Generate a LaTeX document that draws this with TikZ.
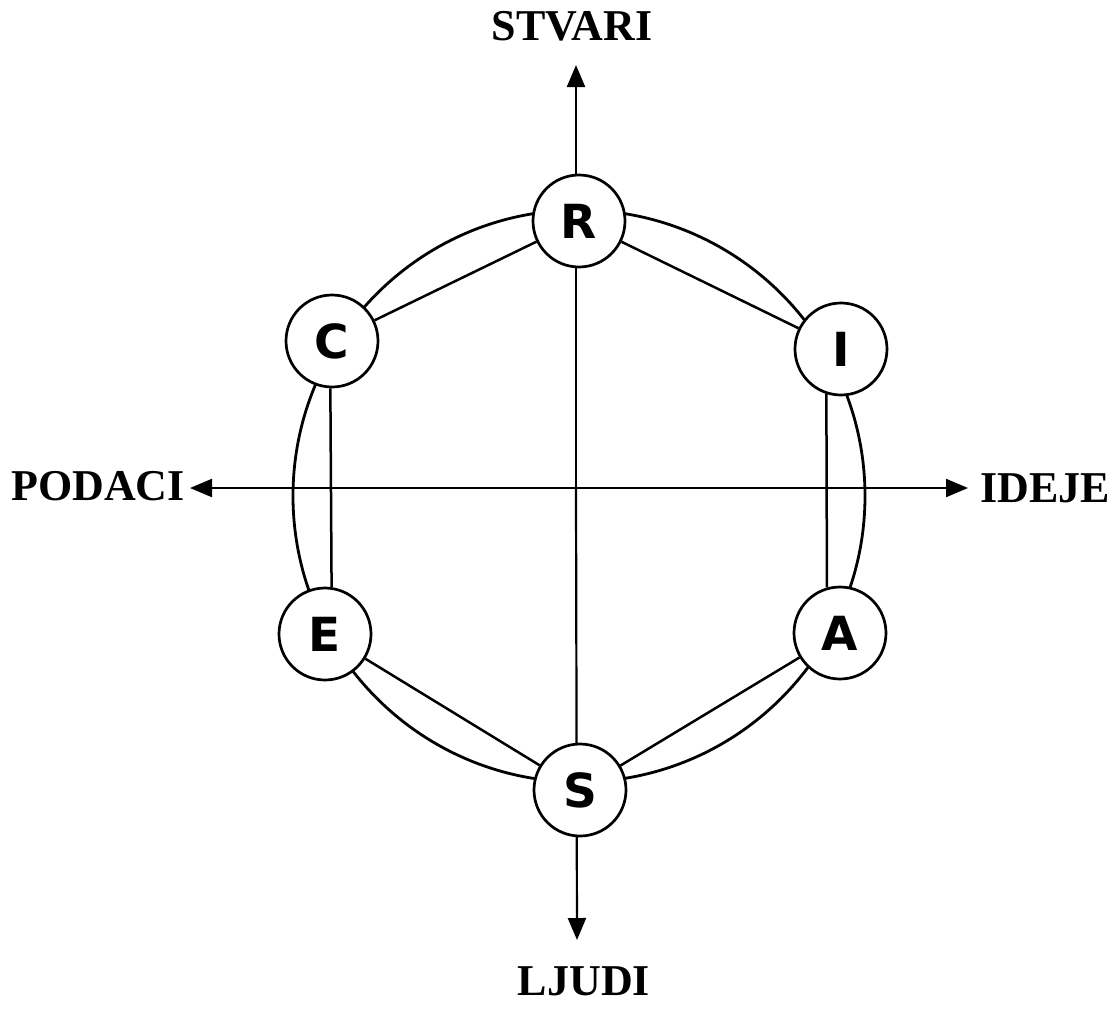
\documentclass[tikz,border=0pt]{standalone}
\usepackage{fontspec}
\setmainfont{Liberation Serif}
\newfontfamily\nodefont{DejaVu Sans}
\usetikzlibrary{arrows.meta}
\begin{document}
\begin{tikzpicture}[x=0.5pt,y=-0.5pt,
  letter/.style={circle,draw,fill=white,line width=1.35pt,minimum size=46pt,inner sep=0pt,
    font=\nodefont\bfseries\fontsize{23.5}{23.5}\selectfont},
  axisarrow/.style={line width=1.1pt,-{Triangle[length=11pt,width=9pt]}},
  hexedge/.style={line width=1.25pt},
  ring/.style={line width=1.4pt},
  axislabel/.style={font=\bfseries\fontsize{22}{22}\selectfont,anchor=base,inner sep=0pt}]
\useasboundingbox[fill=white] (0,0) rectangle (1115,1008);
% axes
\coordinate (O) at (576,488);
\coordinate (ctr) at (579,496);
\coordinate (Ntip) at (576,65);
\coordinate (Stip) at (577,940);
\coordinate (Wtip) at (190,488);
\coordinate (Etip) at (968,488);
\draw[axisarrow] (O) -- (Ntip);
\draw[axisarrow] (O) -- (Stip);
\draw[axisarrow] (O) -- (Wtip);
\draw[axisarrow] (O) -- (Etip);
% labels
\node[axislabel] (stvari) at (572,40) {STVARI};
\node[axislabel] (ljudi) at (584,995) {LJUDI};
\node[axislabel] (podaci) at (98,500) {PODACI};
\node[axislabel] (ideje) at (1045,502) {IDEJE};
% ring
\draw[ring] (ctr) circle[radius=143pt];
% nodes (positions)
\coordinate (pR) at (579,221);
\coordinate (pC) at (332,341);
\coordinate (pI) at (841,349);
\coordinate (pE) at (325,634);
\coordinate (pA) at (840,633);
\coordinate (pS) at (580,790);
\node[letter] (R) at (pR) {R};
\node[letter] (C) at (pC) {C};
\node[letter] (I) at (pI) {I};
\node[letter] (E) at (pE) {E};
\node[letter] (A) at (pA) {A};
\node[letter] (S) at (pS) {S};
% hexagon edges
\draw[hexedge] (R) -- (I);
\draw[hexedge] (R) -- (C);
\draw[hexedge] (C.268) -- (E.82);
\draw[hexedge] (I.252) -- (A.106);
\draw[hexedge] (E) -- (S);
\draw[hexedge] (S) -- (A);
\end{tikzpicture}
\end{document}
